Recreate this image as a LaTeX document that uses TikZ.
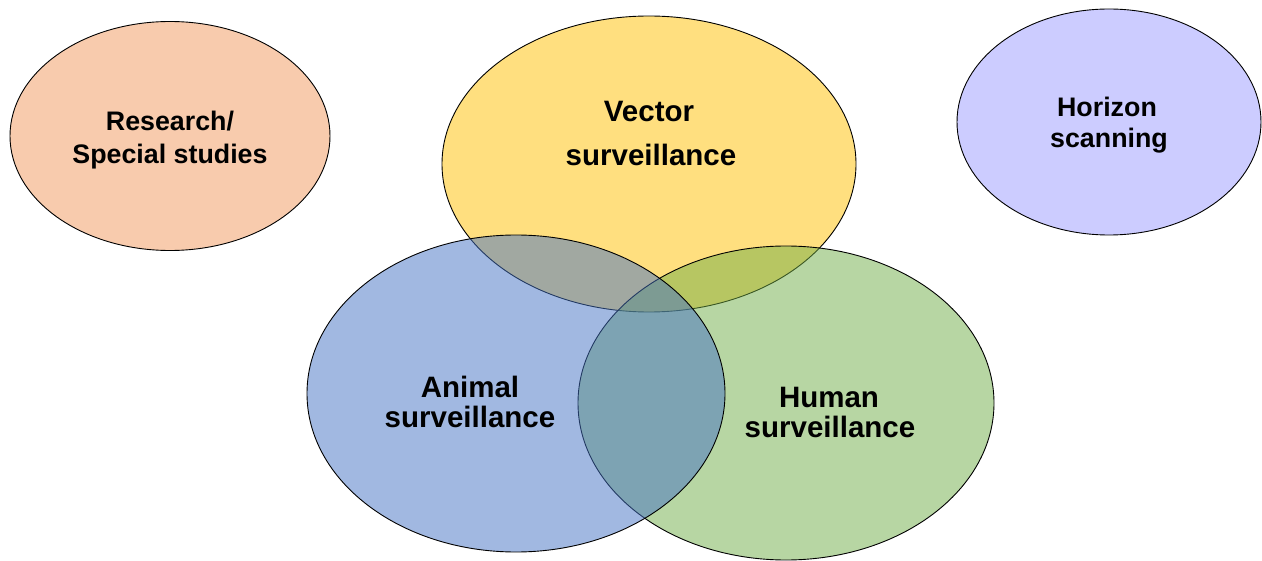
\documentclass[tikz,border=0pt]{standalone}
\usepackage{fontspec}
\setmainfont{Liberation Sans}
\usetikzlibrary{shapes.geometric}
\definecolor{vecc}{HTML}{FFC000}
\definecolor{humc}{HTML}{70AD47}
\definecolor{anic}{HTML}{4472C4}
\definecolor{resc}{HTML}{F8CBAD}
\definecolor{horc}{HTML}{CCCCFF}
\tikzset{
  blob/.style={ellipse, draw=black, line width=0.9pt, inner sep=0pt},
  seethru/.style={fill opacity=0.5, draw opacity=1},
  bigtxt/.style={anchor=base, font=\fontsize{29.5}{31}\selectfont\bfseries, inner sep=0pt},
  smalltxt/.style={anchor=base, font=\fontsize{26.8}{32}\selectfont\bfseries, inner sep=0pt}
}
\begin{document}
\begin{tikzpicture}[x=1pt,y=-1pt]
\useasboundingbox (0,0) rectangle (1262,561);
\node[blob, fill=resc, minimum width=320pt, minimum height=229pt] (research) at (170,136) {};
\node[blob, fill=horc, minimum width=304pt, minimum height=226pt] (horizon) at (1109,122) {};
\node[blob, seethru, fill=vecc, minimum width=414pt, minimum height=296pt] (vector) at (649,164) {};
\node[blob, seethru, fill=humc, minimum width=416pt, minimum height=314pt] (human) at (786,403) {};
\node[blob, seethru, fill=anic, minimum width=418pt, minimum height=317pt] (animal) at (516,393.5) {};
\node[smalltxt] (research1) at (170,131) {Research/};
\node[smalltxt] (research2) at (170,164) {Special studies};
\node[smalltxt] (horizon1) at (1107,117) {Horizon};
\node[smalltxt] (horizon2) at (1109,148) {scanning};
\node[bigtxt] (vector1) at (649,122) {Vector};
\node[bigtxt] (vector2) at (651,166) {surveillance};
\node[bigtxt] (animal1) at (470,398) {Animal};
\node[bigtxt] (animal2) at (470,428) {surveillance};
\node[bigtxt] (human1) at (829,408) {Human};
\node[bigtxt] (human2) at (830,438) {surveillance};
\end{tikzpicture}
\end{document}
